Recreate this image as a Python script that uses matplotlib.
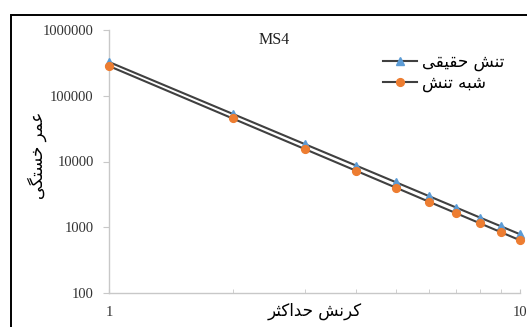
import matplotlib
matplotlib.use("Agg")
import matplotlib.pyplot as plt
from matplotlib.patches import Rectangle
from matplotlib.ticker import FixedLocator, NullFormatter, LogLocator

# data
strain = [1, 2, 3, 4, 5, 6, 7, 8, 9, 10]
real_stress = [326000, 53000, 18300, 8630, 4810, 2980, 1990, 1400, 1030, 782]
pseudo_stress = [283000, 45100, 15400, 7190, 3980, 2450, 1630, 1145, 838, 634]
y_ticks = [100, 1000, 10000, 100000, 1000000]
y_tick_labels = ["100", "1000", "10000", "100000", "1000000"]
x_ticks = [1, 10]
x_tick_labels = ["1", "10"]

# Persian labels in visual order with presentation forms
lab_real = "\uFBFD\uFED8\uFBFF\uFED8\uFEA3 \uFEB6\uFEE8\uFE97"      # تنش حقیقی
lab_pseudo = "\uFEB6\uFEE8\uFE97 \uFEEA\uFE92\uFEB7"               # شبه تنش
xlab = "\uFEAE\uFE9C\uFB90\uFE8D\uFEAA\uFEA3 \uFEB6\uFEE7\uFEAE\uFB90"  # کرنش حداکثر
ylab = "\uFBFD\uFB95\uFE98\uFEB4\uFEA7 \uFEAE\uFEE4\uFECB"           # عمر خستگی

W, H = 527, 327
fig = plt.figure(figsize=(W / 100, H / 100), dpi=100)
fig.patch.set_facecolor("white")

# outer chart border (cut on right and bottom)
fig.patches.append(Rectangle((11 / W, -0.1), 1.2, (H - 15) / H + 0.1,
                             transform=fig.transFigure, fill=False,
                             edgecolor="black", linewidth=1.4))

ax = fig.add_axes([109 / W, 1 - 293 / H, (520 - 109) / W, (293 - 30) / H])
ax.set_xscale("log")
ax.set_yscale("log")
ax.set_xlim(1, 10)
ax.set_ylim(100, 1000000)

line_col = "#404040"
ax.plot(strain, real_stress, color=line_col, linewidth=1.5, marker="^",
        markersize=5.2, markerfacecolor="#5B9BD5", markeredgecolor="#5B9BD5",
        label=lab_real, zorder=3, clip_on=False)
ax.plot(strain, pseudo_stress, color=line_col, linewidth=1.5, marker="o",
        markersize=5.6, markerfacecolor="#ED7D31", markeredgecolor="#ED7D31",
        label=lab_pseudo, zorder=3, clip_on=False)

for s in ["top", "right"]:
    ax.spines[s].set_visible(False)
for s in ["left", "bottom"]:
    ax.spines[s].set_color("#c8c8c8")
    ax.spines[s].set_linewidth(1.0)

ax.yaxis.set_major_locator(FixedLocator(y_ticks))
ax.set_yticklabels(y_tick_labels)
ax.yaxis.set_minor_locator(FixedLocator([]))
ax.xaxis.set_major_locator(FixedLocator(x_ticks))
ax.set_xticklabels(x_tick_labels)
ax.xaxis.set_minor_locator(LogLocator(base=10, subs=range(2, 10)))
ax.xaxis.set_minor_formatter(NullFormatter())

for lab in ax.get_yticklabels() + ax.get_xticklabels():
    lab.set_fontfamily("Liberation Serif")
    lab.set_fontsize(10.5)
    lab.set_color("#333333")
ax.tick_params(axis="y", which="major", direction="out", length=4,
               color="#c8c8c8", pad=7)
ax.tick_params(axis="x", which="both", direction="in", length=3,
               color="#c8c8c8", pad=9)

ax.text(0.5, -0.07, xlab, transform=ax.transAxes, ha="center", va="center",
        fontsize=12, family="DejaVu Sans", color="black")
fig.text(37 / W, 1 - 155 / H, ylab, rotation=90, ha="center", va="center",
         fontsize=12, family="DejaVu Sans", color="black")
fig.text(274 / W, 1 - 40 / H, "MS4", ha="center", va="center",
         fontsize=11.5, family="Liberation Serif", color="#222222")

leg = ax.legend(loc="upper left", bbox_to_anchor=(0.635, 0.965), frameon=False,
                prop=dict(family="DejaVu Sans", size=12), handlelength=2.0,
                handletextpad=0.3, labelspacing=0.15, markerfirst=True,
                borderpad=0.3)

fig.savefig("out.png", dpi=100, facecolor="white")
